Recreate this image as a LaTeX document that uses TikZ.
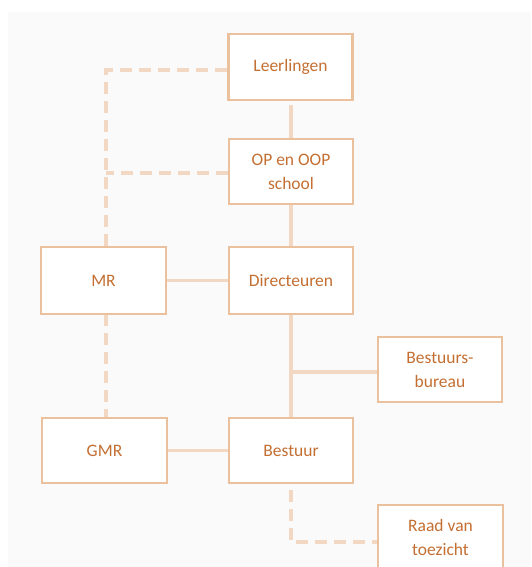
\documentclass[tikz,border=0pt]{standalone}
\usepackage{fontspec}
\setmainfont{Carlito}
\definecolor{bgc}{HTML}{FAFAFA}
\definecolor{boxc}{HTML}{EAC19C}
\definecolor{linec}{HTML}{F2D8C2}
\definecolor{txtc}{HTML}{C46F32}
\pgfdeclarelayer{paper}
\pgfdeclarelayer{links}
\pgfsetlayers{paper,links,main}
\begin{document}
\begin{tikzpicture}[x=1pt,y=-1pt,
  orgbox/.style={draw=boxc,line width=2.6pt,fill=white,minimum width=124pt,minimum height=65pt,
    text=txtc,align=center,inner sep=0pt,font=\fontsize{17.5}{24}\selectfont},
  solidline/.style={draw=linec,line width=3.5pt},
  dashline/.style={draw=linec,line width=3.5pt,dash pattern=on 12pt off 7pt}]
\useasboundingbox (0,0) rectangle (531,567);
\begin{pgfonlayer}{paper}
\fill[bgc] (8,12) rectangle (531,567);
\end{pgfonlayer}
\begin{scope}
\clip (0,0) rectangle (531,567);
\coordinate (lc) at (106,70);
\coordinate (oc) at (106,173);
\coordinate (mrt) at (106,247);
\coordinate (mrb) at (106,314);
\coordinate (gmt) at (106,418);
\coordinate (br) at (293,372);
\coordinate (bd) at (291,542);
\node[orgbox,minimum height=66pt] (lee) at (290.5,67) {Leerlingen};
\node[orgbox] (op) at (291,171.5) {OP en OOP\\school};
\node[orgbox,minimum height=67pt] (dir) at (291,280.5) {Directeuren};
\node[orgbox,minimum width=125pt,minimum height=67pt] (mr) at (103.5,280.5) {MR};
\node[orgbox] (bb) at (440,369.5) {Bestuurs-\\bureau};
\node[orgbox,minimum width=125pt] (gmr) at (104.5,450.5) {GMR};
\node[orgbox] (bes) at (291,450.5) {Bestuur};
\node[orgbox,minimum width=125pt] (raad) at (440.5,537.5) {Raad van\\toezicht};
\begin{pgfonlayer}{links}
\draw[solidline,shorten <=4pt] (lee.south -| op.north) -- (op.north);
\draw[solidline] (op.south) -- (dir.north);
\draw[solidline] (mr.east) -- (dir.west);
\draw[solidline] (dir.south) -- (bes.north);
\draw[solidline] (br) -- (br -| bb.west);
\draw[solidline] (gmr.east) -- (bes.west);
\draw[dashline] (lee.west |- lc) -- (lc) -- (mrt);
\draw[dashline] (op.west |- oc) -- (oc);
\draw[dashline] (mrb) -- (gmt);
\draw[dashline,shorten <=6pt] (bes.south) -- (bd) -- (bd -| raad.west);
\end{pgfonlayer}
\end{scope}
\end{tikzpicture}
\end{document}
